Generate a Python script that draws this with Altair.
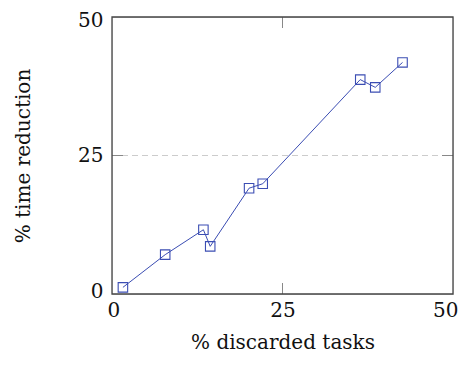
import altair as alt
import pandas as pd

discarded = [1.6, 7.8, 13.4, 14.4, 20.1, 22.1, 36.4, 38.6, 42.6]
reduction = [1.2, 7.1, 11.6, 8.6, 19.1, 19.9, 38.7, 37.3, 41.8]
ticks = [0, 25, 50]

df = pd.DataFrame({"x": discarded, "y": reduction})
tk = pd.DataFrame({"v": [25]})

W, H = 341, 277
FONT = "DejaVu Serif"
FS = 20
BLUE = "#3b4db3"

xs = alt.Scale(domain=[0, 50], nice=False, zero=False)
ys = alt.Scale(domain=[0, 50], nice=False, zero=False)

xaxis = alt.Axis(values=ticks, title="% discarded tasks", grid=False, ticks=False, domain=False,
                 labelFont=FONT, labelFontSize=FS, labelColor="#111", labelPadding=6,
                 titleFont=FONT, titleFontSize=FS, titleFontWeight="normal", titleColor="#111",
                 titlePadding=12, labelFlush=True, labelFlushOffset=5)
yaxis = alt.Axis(values=ticks, title="% time reduction", grid=False, ticks=False, domain=False,
                 labelFont=FONT, labelFontSize=FS, labelColor="#111", labelPadding=9,
                 titleFont=FONT, titleFontSize=FS, titleFontWeight="normal", titleColor="#111",
                 titlePadding=44, labelFlush=True, labelFlushOffset=7)

base = alt.Chart(df)

grid = alt.Chart(tk).mark_rule(color="#cccccc", strokeDash=[6, 4], strokeWidth=1).encode(
    y=alt.Y("v:Q", scale=ys, axis=yaxis), x=alt.value(0), x2=alt.value(W))

xt_bot = alt.Chart(tk).mark_rule(color="#888", strokeWidth=1).encode(
    x=alt.X("v:Q", scale=xs, axis=xaxis), y=alt.value(H), y2=alt.value(H - 11))
xt_top = alt.Chart(tk).mark_rule(color="#888", strokeWidth=1).encode(
    x=alt.X("v:Q", scale=xs), y=alt.value(0), y2=alt.value(11))
yt_l = alt.Chart(tk).mark_rule(color="#888", strokeWidth=1).encode(
    y=alt.Y("v:Q", scale=ys), x=alt.value(0), x2=alt.value(11))
yt_r = alt.Chart(tk).mark_rule(color="#888", strokeWidth=1).encode(
    y=alt.Y("v:Q", scale=ys), x=alt.value(W), x2=alt.value(W - 11))

frame = alt.Chart(tk).mark_rect(fill=None, stroke="#444", strokeWidth=1.3).encode(
    x=alt.value(0), x2=alt.value(W), y=alt.value(0), y2=alt.value(H))

line = base.mark_line(color=BLUE, strokeWidth=1).encode(
    x=alt.X("x:Q", scale=xs), y=alt.Y("y:Q", scale=ys))
pts = base.mark_point(shape="square", size=90, filled=False, color=BLUE, strokeWidth=1.1, opacity=1).encode(
    x=alt.X("x:Q", scale=xs), y=alt.Y("y:Q", scale=ys))

chart = alt.layer(grid, xt_bot, xt_top, yt_l, yt_r, frame, line, pts).properties(
    width=W, height=H,
    autosize=alt.AutoSizeParams(type="none"),
    padding={"left": 104, "top": 9, "right": 5, "bottom": 63},
).configure_view(stroke=None).configure(background="white")

chart.save("out.html", embed_options={"renderer": "svg", "actions": False})
